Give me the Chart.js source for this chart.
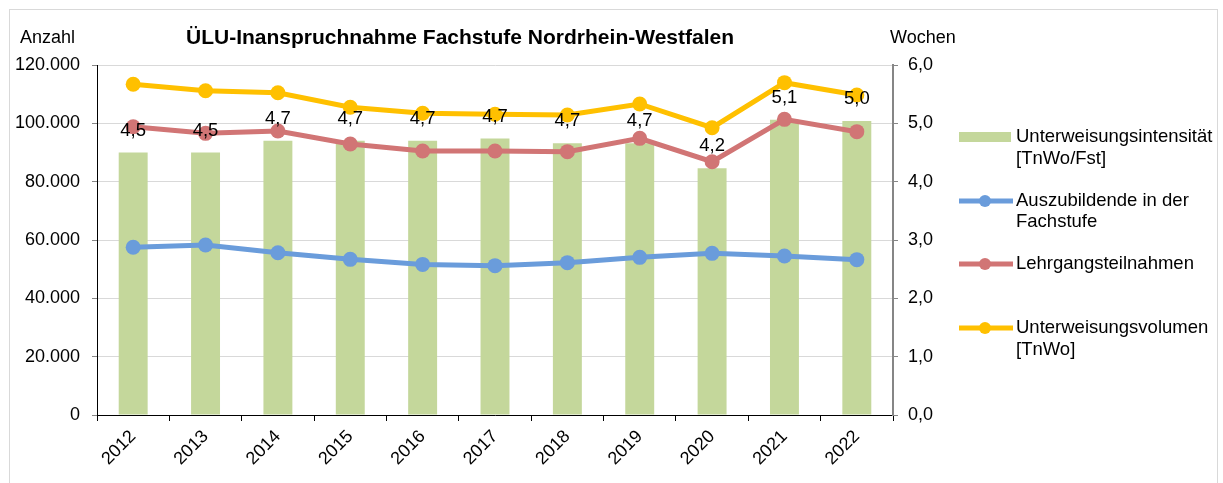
<!DOCTYPE html>
<html lang="de">
<head>
<meta charset="utf-8">
<title>ÜLU-Inanspruchnahme Fachstufe Nordrhein-Westfalen</title>
<script src="https://cdn.jsdelivr.net/npm/chart.js@4.4.1/dist/chart.umd.min.js"></script>
<style>
    html, body { margin: 0; padding: 0; background: #fff; }
    #wrap { width: 1223px; height: 483px; }
</style>
</head>
<body>
<div id="wrap"><canvas id="uluChart" width="1223" height="483"></canvas></div>
<script>
// Daten
const years = ['2012', '2013', '2014', '2015', '2016', '2017', '2018', '2019', '2020', '2021', '2022'];
const intensitaet = [4.50, 4.50, 4.70, 4.70, 4.70, 4.74, 4.66, 4.66, 4.23, 5.06, 5.04];
const auszubildende = [57490, 58290, 55650, 53370, 51640, 51200, 52230, 54060, 55430, 54510, 53260];
const lehrgangsteilnahmen = [98850, 96570, 97370, 92910, 90510, 90510, 90290, 94860, 86850, 101370, 97140];
const volumen = [113380, 111190, 110500, 105490, 103440, 103090, 102860, 106630, 98510, 113940, 109710];

const FONT = "'Liberation Sans', Arial, sans-serif";
const GREEN = '#c4d79b';
const BLUE = '#6a9cdb';
const RED = '#d17575';
const YELLOW = '#ffc000';

function fmtThousands(n) {
    return String(n).replace(/\B(?=(\d{3})+(?!\d))/g, '.');
}
function fmtComma(v) {
    return Number(v).toFixed(1).replace('.', ',');
}

// Rahmen + Hintergrund
const framePlugin = {
    id: 'frame',
    beforeDraw(chart) {
        const ctx = chart.ctx;
        ctx.save();
        ctx.fillStyle = '#fff';
        ctx.fillRect(0, 0, chart.width, chart.height);
        ctx.strokeStyle = '#d9d9d9';
        ctx.lineWidth = 1;
        ctx.strokeRect(9.5, 9.5, 1208, 490);
        ctx.restore();
    }
};

// Werte über den Säulen
const barLabelPlugin = {
    id: 'barLabels',
    afterDatasetsDraw(chart) {
        const ctx = chart.ctx;
        const meta = chart.getDatasetMeta(0);
        ctx.save();
        ctx.font = '18.5px ' + FONT;
        ctx.fillStyle = '#000';
        ctx.textAlign = 'center';
        ctx.textBaseline = 'middle';
        meta.data.forEach((bar, i) => {
            ctx.fillText(fmtComma(intensitaet[i]), bar.x, bar.y - 22);
        });
        ctx.restore();
    }
};

// Titel, Achsentitel, Legende
const textPlugin = {
    id: 'texts',
    afterDraw(chart) {
        const ctx = chart.ctx;
        ctx.save();
        ctx.fillStyle = '#000';
        ctx.textBaseline = 'middle';

        ctx.font = 'bold 21px ' + FONT;
        ctx.textAlign = 'center';
        ctx.fillText('ÜLU-Inanspruchnahme Fachstufe Nordrhein-Westfalen', 460, 38);

        ctx.font = '18px ' + FONT;
        ctx.textAlign = 'left';
        ctx.fillText('Anzahl', 20, 38);
        ctx.fillText('Wochen', 890, 38);

        // Legende
        const lx = 959, tx = 1016;
        ctx.fillStyle = GREEN;
        ctx.fillRect(lx, 132, 52, 10);

        const lineItems = [
            { color: BLUE, y: 201 },
            { color: RED, y: 264 },
            { color: YELLOW, y: 328 }
        ];
        lineItems.forEach(item => {
            ctx.strokeStyle = item.color;
            ctx.lineWidth = 5;
            ctx.beginPath();
            ctx.moveTo(lx, item.y);
            ctx.lineTo(lx + 54, item.y);
            ctx.stroke();
            ctx.fillStyle = item.color;
            ctx.beginPath();
            ctx.arc(lx + 26, item.y, 6, 0, Math.PI * 2);
            ctx.fill();
        });

        ctx.font = '18.5px ' + FONT;
        ctx.fillStyle = '#000';
        ctx.fillText('Unterweisungsintensität', tx, 137);
        ctx.fillText('[TnWo/Fst]', tx, 159);
        ctx.fillText('Auszubildende in der', tx, 201);
        ctx.fillText('Fachstufe', tx, 222);
        ctx.fillText('Lehrgangsteilnahmen', tx, 264);
        ctx.fillText('Unterweisungsvolumen', tx, 328);
        ctx.fillText('[TnWo]', tx, 350);
        ctx.restore();
    }
};

const lineStyle = (color) => ({
    borderColor: color,
    backgroundColor: color,
    borderWidth: 5,
    pointRadius: 7.5,
    pointHoverRadius: 7.5,
    pointBorderWidth: 0,
    pointBackgroundColor: color,
    tension: 0,
    fill: false,
    yAxisID: 'y'
});

const ctx = document.getElementById('uluChart').getContext('2d');
new Chart(ctx, {
    type: 'bar',
    data: {
        labels: years,
        datasets: [
            {
                type: 'bar',
                label: 'Unterweisungsintensität [TnWo/Fst]',
                data: intensitaet,
                backgroundColor: GREEN,
                barPercentage: 0.4,
                categoryPercentage: 1.0,
                yAxisID: 'y1',
                order: 10
            },
            Object.assign({ type: 'line', label: 'Auszubildende in der Fachstufe', data: auszubildende, order: 3 }, lineStyle(BLUE)),
            Object.assign({ type: 'line', label: 'Lehrgangsteilnahmen', data: lehrgangsteilnahmen, order: 2 }, lineStyle(RED)),
            Object.assign({ type: 'line', label: 'Unterweisungsvolumen [TnWo]', data: volumen, order: 1 }, lineStyle(YELLOW))
        ]
    },
    options: {
        responsive: false,
        animation: false,
        layout: {
            padding: { top: 65, bottom: 0, left: 0, right: 0 }
        },
        plugins: {
            legend: { display: false },
            title: { display: false },
            tooltip: { enabled: false }
        },
        scales: {
            x: {
                offset: true,
                grid: {
                    offset: true,
                    drawOnChartArea: false,
                    drawTicks: true,
                    tickLength: 6,
                    color: '#000'
                },
                border: { color: '#000', width: 1 },
                ticks: {
                    color: '#000',
                    font: { family: FONT, size: 18 },
                    maxRotation: 45,
                    minRotation: 45,
                    padding: 5
                },
                afterFit(scale) { scale.height = 68; }
            },
            y: {
                position: 'left',
                min: 0,
                max: 120000,
                ticks: {
                    stepSize: 20000,
                    color: '#000',
                    padding: 12,
                    font: { family: FONT, size: 18 },
                    callback: v => fmtThousands(v)
                },
                grid: {
                    color: '#d9d9d9',
                    tickColor: '#868686',
                    tickLength: 5
                },
                border: { color: '#000', width: 1 },
                afterFit(scale) { scale.width = 97; }
            },
            y1: {
                position: 'right',
                min: 0,
                max: 6,
                ticks: {
                    stepSize: 1,
                    color: '#000',
                    padding: 10,
                    font: { family: FONT, size: 18 },
                    callback: v => fmtComma(v)
                },
                grid: {
                    drawOnChartArea: false,
                    color: '#868686',
                    tickLength: 5
                },
                border: { color: '#868686', width: 2 },
                afterFit(scale) { scale.width = 330; }
            }
        }
    },
    plugins: [framePlugin, barLabelPlugin, textPlugin]
});
</script>
</body>
</html>
